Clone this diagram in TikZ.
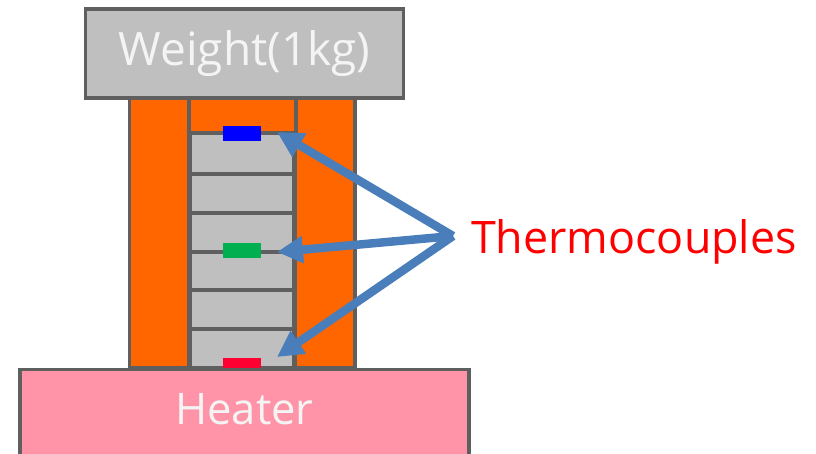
\documentclass[tikz,border=0pt]{standalone}
\usepackage{fontspec}
\setmainfont{Open Sans}
\usetikzlibrary{arrows.meta}
\definecolor{edgegray}{HTML}{5F5F5F}
\definecolor{platefill}{HTML}{BFBFBF}
\definecolor{wallorange}{HTML}{FF6600}
\definecolor{heaterpink}{HTML}{FF94A8}
\definecolor{arrowblue}{HTML}{4A7EBB}
\definecolor{tcblue}{HTML}{0000FF}
\definecolor{tcgreen}{HTML}{00B050}
\definecolor{tcred}{HTML}{FF0033}
\definecolor{softwhite}{HTML}{F4F4F4}
\tikzset{
  box/.style={draw=edgegray,line width=3.2pt,inner sep=0pt,outer sep=0pt,anchor=north west},
  plate/.style={box,fill=platefill,minimum width=104pt},
  wall/.style={box,fill=wallorange},
  tc/.style={inner sep=0pt,outer sep=0pt,minimum width=38pt,anchor=north west},
  pointer/.style={draw=arrowblue,line width=8.5pt,-{Triangle[length=26pt,width=26pt]}},
  bigtext/.style={text=softwhite,anchor=base}
}
\begin{document}
\begin{tikzpicture}[x=1pt,y=-1pt]
\useasboundingbox (0,0) rectangle (816,454);
\node[wall,minimum width=59pt,minimum height=270pt] (wallL) at (129.5,98) {};
\node[wall,minimum width=60pt,minimum height=270pt] (wallR) at (295,98) {};
\node[wall,minimum width=107pt,minimum height=35pt] (cap) at (189,98) {};
\node[plate,minimum height=41pt] (p1) at (190,133) {};
\node[plate,minimum height=39pt] (p2) at (190,174) {};
\node[plate,minimum height=39pt] (p3) at (190,213) {};
\node[plate,minimum height=38pt] (p4) at (190,252) {};
\node[plate,minimum height=39pt] (p5) at (190,290) {};
\node[plate,minimum height=39pt] (p6) at (190,329) {};
\node[box,fill=platefill,minimum width=318pt,minimum height=89pt] (weight) at (85.5,9) {};
\node[bigtext,font=\fontsize{46}{46}\selectfont] (weighttext) at (244.5,66) {Weight(1kg)};
\node[box,fill=heaterpink,minimum width=449pt,minimum height=95pt] (heater) at (20,369.5) {};
\node[bigtext,font=\fontsize{43.5}{44}\selectfont] (heatertext) at (244.5,424) {Heater};
\node[tc,fill=tcblue,minimum height=15pt] (tA) at (223,126) {};
\node[tc,fill=tcgreen,minimum height=15pt] (tB) at (223,243) {};
\node[tc,fill=tcred,minimum height=10pt] (tC) at (223,357.5) {};
\node[text=red,font=\fontsize{44.8}{45}\selectfont,anchor=base] (label) at (634,254) {Thermocouples};
\coordinate (hub) at (453,236);
\coordinate (eA) at (277,132);
\coordinate (eB) at (277,252);
\coordinate (eC) at (277,357);
\draw[pointer] (hub) -- (eA);
\draw[pointer] (hub) -- (eB);
\draw[pointer] (hub) -- (eC);
\end{tikzpicture}
\end{document}
